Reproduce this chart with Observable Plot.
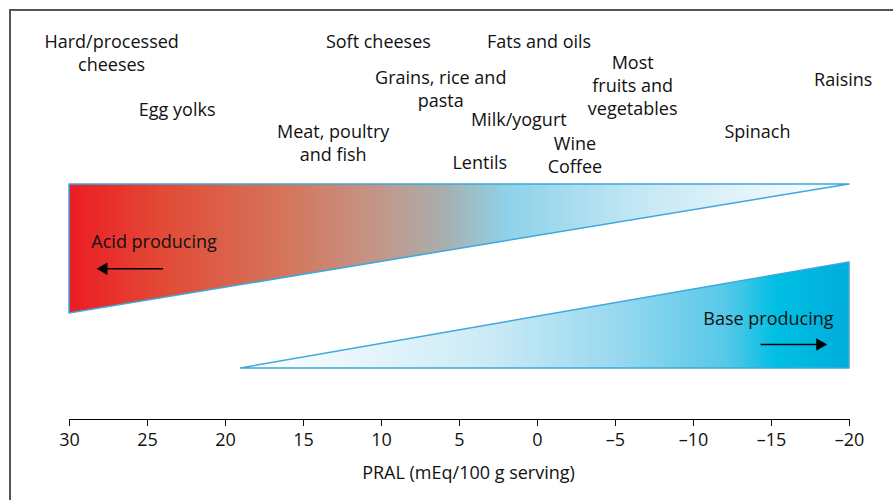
<!DOCTYPE html>
<html>
<head>
<meta charset="utf-8">
<script src="https://cdn.jsdelivr.net/npm/d3@7"></script>
<script src="https://cdn.jsdelivr.net/npm/@observablehq/plot@0.6"></script>
<style>
  html, body { margin: 0; padding: 0; background: #fff; }
  #wrap { position: relative; width: 893px; height: 500px; overflow: hidden; }
  #border { position: absolute; left: 9px; top: 9px; width: 2000px; height: 2000px;
            border-left: 2px solid #555; border-top: 2px solid #555; pointer-events: none; }
</style>
</head>
<body>
<div id="wrap"><div id="border"></div></div>
<script>
// Food group labels: PRAL position (x) and vertical level (y, arbitrary units)
const foodNames = ["Hard/processed\ncheeses", "Egg yolks", "Meat, poultry\nand fish", "Soft cheeses",
  "Grains, rice and\npasta", "Fats and oils", "Milk/yogurt", "Lentils", "Wine\nCoffee",
  "Most\nfruits and\nvegetables", "Spinach", "Raisins"];
const foodPRAL = [27.3, 23.1, 13.1, 10.2, 6.2, -0.1, 1.2, 3.7, -2.4, -6.1, -14.1, -19.6];
const foodLevel = [87.7, 74.2, 66.3, 90.5, 79.1, 90.5, 71.9, 61.6, 63.4, 80.0, 69.0, 81.4];

// Wedges (PRAL extent and levels)
const acidX = [30, -20];
const acidLow = [25.3, 56.1];
const acidHigh = [56.1, 56.1];
const baseX = [19, -20];
const baseLow = [12.2, 12.2];
const baseHigh = [12.2, 37.5];

// Wedge labels and arrows
const wedgeLabels = ["Acid producing", "Base producing"];
const wedgeLabelX = [28.6, -14.8];
const wedgeLabelY = [42.2, 23.9];
const arrowFrom = [24.0, -14.3];
const arrowTo = [27.8, -18.1];
const arrowY = [36, 17.9];

const ticks = [30, 25, 20, 15, 10, 5, 0, -5, -10, -15, -20];
const axisTitle = "PRAL (mEq/100 g serving)";

const foods = foodNames.map((n, i) => ({name: n, x: foodPRAL[i], y: foodLevel[i]}));
const acid = acidX.map((x, i) => ({x, y1: acidLow[i], y2: acidHigh[i]}));
const base = baseX.map((x, i) => ({x, y1: baseLow[i], y2: baseHigh[i]}));
const wl = wedgeLabels.map((t, i) => ({t, x: wedgeLabelX[i], y: wedgeLabelY[i]}));
const arrows = arrowFrom.map((x1, i) => ({x1, x2: arrowTo[i], y: arrowY[i], rot: i === 0 ? -90 : 90}));

const defs = () => {
  const ns = "http://www.w3.org/2000/svg";
  const d = document.createElementNS(ns, "defs");
  d.innerHTML = `
    <linearGradient id="gAcid" x1="0" x2="1" y1="0" y2="0">
      <stop offset="0" stop-color="#ec1c24"/>
      <stop offset="0.12" stop-color="#e24a36"/>
      <stop offset="0.28" stop-color="#d4765c"/>
      <stop offset="0.40" stop-color="#c3978a"/>
      <stop offset="0.48" stop-color="#a8aeae"/>
      <stop offset="0.565" stop-color="#8ed3ea"/>
      <stop offset="0.75" stop-color="#c9e9f5"/>
      <stop offset="1" stop-color="#ffffff"/>
    </linearGradient>
    <linearGradient id="gBase" x1="0" x2="1" y1="0" y2="0">
      <stop offset="0" stop-color="#ffffff"/>
      <stop offset="0.4" stop-color="#cdebf6"/>
      <stop offset="0.62" stop-color="#98d8ef"/>
      <stop offset="0.8" stop-color="#55c8e8"/>
      <stop offset="0.88" stop-color="#00bfe4"/>
      <stop offset="1" stop-color="#00addb"/>
    </linearGradient>`;
  return d;
};

const font = "'Open Sans', 'Noto Sans', sans-serif";

const chart = Plot.plot({
  width: 893,
  height: 500,
  marginLeft: 69,
  marginRight: 44,
  marginTop: 0,
  marginBottom: 81,
  style: {fontFamily: font, background: "transparent", color: "#111"},
  x: {domain: [30, -20]},
  y: {domain: [0, 100], axis: null},
  marks: [
    defs,
    Plot.areaY(acid, {x: "x", y1: "y1", y2: "y2", fill: "url(#gAcid)", stroke: "#3da8dc", strokeWidth: 1.5, curve: "linear"}),
    Plot.areaY(base, {x: "x", y1: "y1", y2: "y2", fill: "url(#gBase)", stroke: "#3da8dc", strokeWidth: 1.5, curve: "linear"}),
    Plot.text(foods, {x: "x", y: "y", text: "name", fontSize: 18, lineHeight: 1.28, fill: "#111", lineAnchor: "middle"}),
    Plot.text(wl, {x: "x", y: "y", text: "t", fontSize: 18, fill: "#111", textAnchor: "start", filter: (d, i) => i === 0}),
    Plot.text(wl, {x: "x", y: "y", text: "t", fontSize: 18, fill: "#111", textAnchor: "middle", filter: (d, i) => i === 1}),
    Plot.link(arrows, {x1: "x1", x2: "x2", y1: "y", y2: "y", stroke: "#000", strokeWidth: 1.5}),
    Plot.dot(arrows, {x: "x2", y: "y", symbol: "triangle2", rotate: "rot", r: 6, fill: "#000", stroke: null}),
    Plot.ruleY([0], {stroke: "#000", strokeWidth: 1.2}),
    Plot.axisX({ticks, tickSize: 7, tickPadding: 7, fontSize: 18,
      tickFormat: d => d < 0 ? "\u2013" + Math.abs(d) : String(d), label: null}),
    Plot.text([axisTitle], {text: d => d, frameAnchor: "bottom", dy: 59, fontSize: 18, fill: "#111", dx: 9})
  ]
});
document.getElementById("wrap").prepend(chart);
</script>
</body>
</html>
